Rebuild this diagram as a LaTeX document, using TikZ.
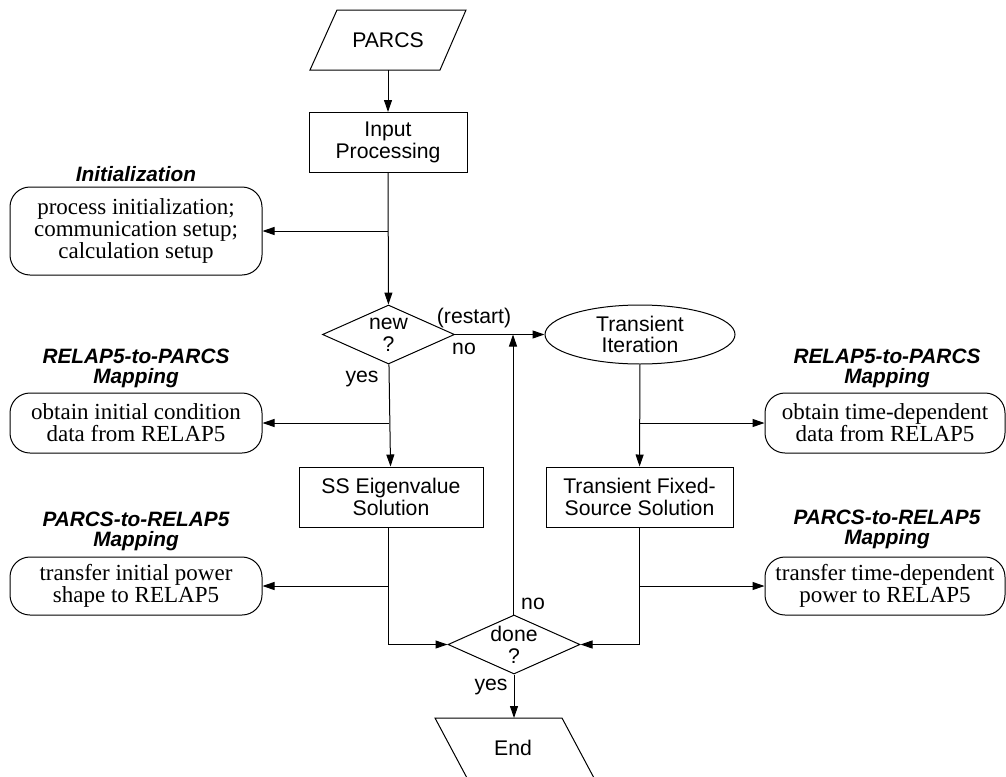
\documentclass[tikz,border=0pt]{standalone}
\usepackage{fontspec}
\setmainfont{Liberation Serif}
\setsansfont{Liberation Sans}
\usetikzlibrary{arrows.meta,shapes.geometric}
\begin{document}
\begin{tikzpicture}[x=0.5pt,y=-0.5pt,line width=0.5pt,
  sanstext/.style={font=\sffamily\fontsize{10.6}{10.9}\selectfont},
  flow/.style={draw,sanstext,align=center,inner sep=0pt},
  procbox/.style={flow,rectangle,minimum height=30pt},
  decide/.style={flow,diamond,aspect=2.25,minimum width=66pt,minimum height=29.5pt},
  iterate/.style={flow,ellipse,minimum width=95pt,minimum height=29.5pt},
  taskbox/.style={draw,rounded corners=10pt,inner sep=0pt,align=center,
    font=\rmfamily\fontsize{11.5}{11.1}\selectfont,minimum height=30pt},
  headlabel/.style={align=center,font=\sffamily\bfseries\itshape\fontsize{10.4}{10}\selectfont},
  edgelabel/.style={sanstext,inner sep=0pt},
  arrow/.style={-{Triangle[length=6pt,width=4pt]}}]
\useasboundingbox (0,0) rectangle (1006,776);
\clip (0,0) rectangle (1006,776);
% PARCS parallelogram
\draw (337,10) -- (466,10) -- (440,70) -- (310,70) -- cycle;
\node[sanstext] (parcs) at (388,40) {PARCS};
\coordinate (parcsbot) at (388,70);
% End parallelogram
\draw (435,718) -- (562,718) -- (594,778) -- (467,778) -- cycle;
\node[sanstext] (endn) at (513,748) {End};
\coordinate (endtop) at (514,718);
% main nodes
\node[procbox,minimum width=79pt] (input) at (388,142.5) {Input\\Processing};
\node[decide] (new) at (388.5,334.5) {new\\?};
\node[iterate] (trans) at (640,334.5) {Transient\\Iteration};
\node[procbox,minimum width=92pt] (ss) at (391,497) {SS Eigenvalue\\Solution};
\node[procbox,minimum width=93.5pt] (tfs) at (639.5,497) {Transient Fixed-\\Source Solution};
\node[decide] (done) at (514,644.5) {done\\?};
% side boxes
\node[taskbox,minimum width=126pt,minimum height=44pt] (init) at (136,231) {process initialization;\\communication setup;\\calculation setup};
\node[taskbox,minimum width=126pt] (obtL) at (136,423) {obtain initial condition\\data from RELAP5};
\node[taskbox,minimum width=120pt] (obtR) at (885,423) {obtain time-dependent\\data from RELAP5};
\node[taskbox,minimum width=126pt,minimum height=29pt] (trL) at (136,586) {transfer initial power\\shape to RELAP5};
\node[taskbox,minimum width=120pt,minimum height=29pt] (trR) at (885,586) {transfer time-dependent\\power to RELAP5};
% head labels
\node[headlabel] (hInit) at (136,174) {Initialization};
\node[headlabel] (hRPL) at (136,368) {RELAP5-to-PARCS\\Mapping};
\node[headlabel] (hRPR) at (887,368) {RELAP5-to-PARCS\\Mapping};
\node[headlabel] (hPRL) at (136,531) {PARCS-to-RELAP5\\Mapping};
\node[headlabel] (hPRR) at (887,529) {PARCS-to-RELAP5\\Mapping};
% connectors
\draw[arrow] (parcsbot) -- (input);
\draw[arrow] (input) -- (new);
\draw[arrow] (input.south |- init.east) -- (init.east);
\draw[arrow] (new.east) -- (trans.west);
\draw[arrow] (new) -- (ss);
\draw[arrow] (new.south |- obtL.east) -- (obtL.east);
\draw[arrow] (trans) -- (tfs);
\draw[arrow] (trans.south |- obtR.west) -- (obtR.west);
\draw[arrow] (ss.south -| new.south) |- (done.west);
\draw[arrow] (new.south |- trL.east) -- (trL.east);
\draw[arrow] (tfs.south) |- (done.east);
\draw[arrow] (tfs.south |- trR.west) -- (trR.west);
\draw[arrow] (done.north -| 513,0) -- (new.east -| 513,0);
\draw[arrow] (done) -- (endtop);
% edge labels
\node[edgelabel] (lrestart) at (474,318) {(restart)};
\node[edgelabel] (lno1) at (464,349) {no};
\node[edgelabel] (lyes1) at (362,379) {yes};
\node[edgelabel] (lno2) at (533,604) {no};
\node[edgelabel] (lyes2) at (491,687) {yes};
\end{tikzpicture}
\end{document}
